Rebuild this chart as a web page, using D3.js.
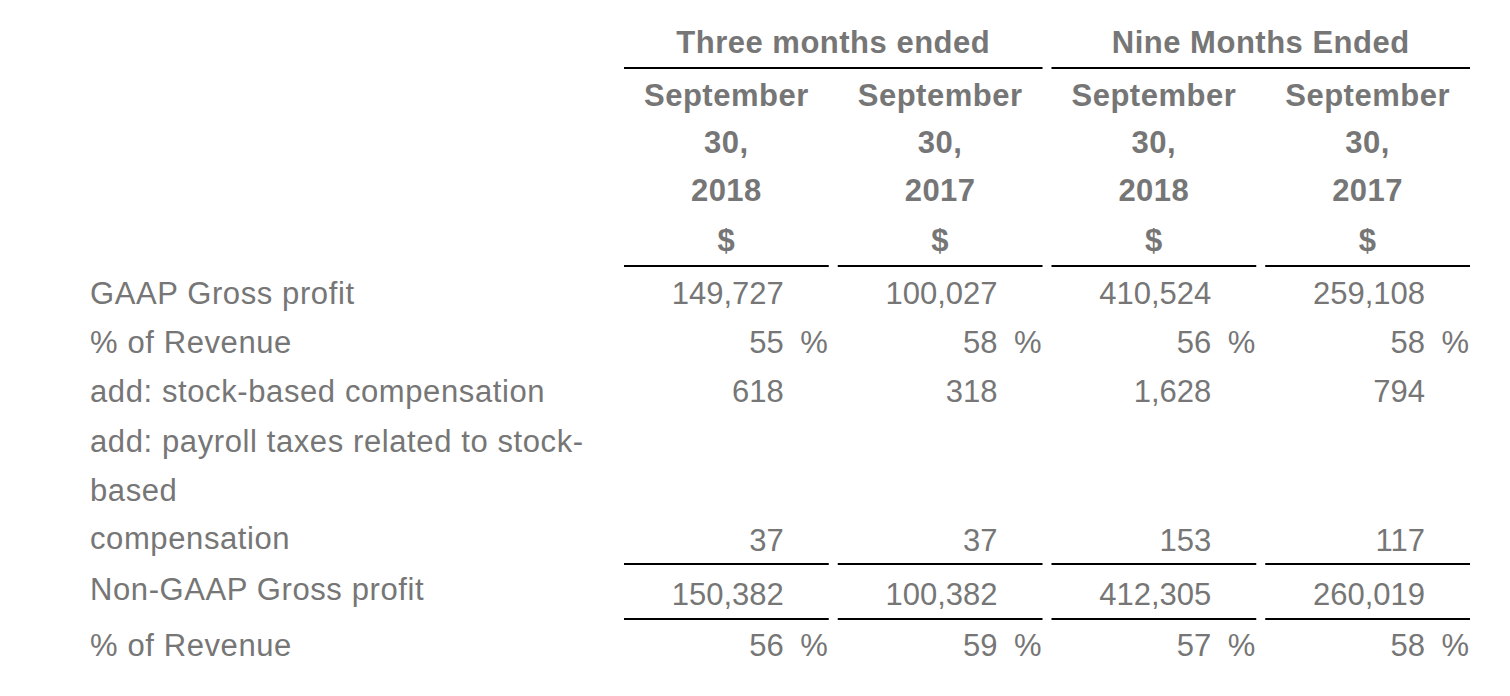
<!DOCTYPE html>
<html>
<head>
<meta charset="utf-8">
<script src="https://cdn.jsdelivr.net/npm/d3@7"></script>
<style>
  html, body { margin: 0; padding: 0; background: #fff; }
  svg { display: block; }
  text { font-family: "Liberation Sans", Arial, Helvetica, sans-serif; fill: #767676; font-size: 31px; }
  .bold { font-weight: bold; }
</style>
</head>
<body>
<svg id="chart" width="1510" height="696"></svg>
<script>
// ---- data ----
const groupHeaders = ["Three months ended", "Nine Months Ended"];
const columnMonth = ["September", "September", "September", "September"];
const columnDay = ["30,", "30,", "30,", "30,"];
const columnYear = ["2018", "2017", "2018", "2017"];
const columnUnit = ["$", "$", "$", "$"];

const rowLabels = [
  ["GAAP Gross profit"],
  ["% of Revenue"],
  ["add: stock-based compensation"],
  ["add: payroll taxes related to stock-", "based", "compensation"],
  ["Non-GAAP Gross profit"],
  ["% of Revenue"]
];
const gaapGrossProfit = [149727, 100027, 410524, 259108];
const gaapPctRevenue = [55, 58, 56, 58];
const stockComp = [618, 318, 1628, 794];
const payrollTaxes = [37, 37, 153, 117];
const nonGaapGrossProfit = [150382, 100382, 412305, 260019];
const nonGaapPctRevenue = [56, 59, 57, 58];

const rowValues = [gaapGrossProfit, gaapPctRevenue, stockComp, payrollTaxes, nonGaapGrossProfit, nonGaapPctRevenue];
const rowIsPct = [false, true, false, false, false, true];

// ---- layout ----
const svg = d3.select("#chart");
const fmt = d3.format(",");
const cols = d3.range(4);
const x = d3.scaleBand().domain(cols).range([624, 1470]).paddingInner(0.042);
const bw = x.bandwidth();
const labelX = 90;
const lineColor = "#000";

// header rows
const headerBaselines = [106, 153, 201, 251];
const groupBaseline = 53;

// group headers
groupHeaders.forEach((g, i) => {
  const x0 = x(i * 2), x1 = x(i * 2 + 1) + bw;
  svg.append("text").attr("class", "bold").attr("x", (x0 + x1) / 2).attr("y", groupBaseline)
    .attr("text-anchor", "middle").style("letter-spacing", "0.5px").text(g);
  svg.append("line").attr("x1", x0).attr("x2", x1).attr("y1", 68).attr("y2", 68)
    .attr("stroke", lineColor).attr("stroke-width", 2);
});

[columnMonth, columnDay, columnYear, columnUnit].forEach((arr, r) => {
  svg.selectAll(null).data(cols).enter().append("text")
    .attr("class", "bold")
    .attr("x", d => x(d) + bw / 2)
    .attr("y", headerBaselines[r])
    .attr("text-anchor", "middle")
    .style("letter-spacing", "0.5px")
    .text(d => arr[d]);
});

function hlines(y) {
  svg.selectAll(null).data(cols).enter().append("line")
    .attr("x1", d => x(d)).attr("x2", d => x(d) + bw)
    .attr("y1", y).attr("y2", y)
    .attr("stroke", lineColor).attr("stroke-width", 2);
}
hlines(266);
hlines(564);
hlines(619);

// body rows: label baselines (per line) and value baselines
const labelBaselines = [[304], [353], [402], [452, 501, 549], [600], [656]];
const valueBaselines = [304, 353, 402, 551, 605, 656];

rowLabels.forEach((lines, r) => {
  lines.forEach((t, k) => {
    svg.append("text").attr("x", labelX).attr("y", labelBaselines[r][k])
      .style("letter-spacing", "0.6px").text(t);
  });
  const vals = rowValues[r];
  svg.selectAll(null).data(cols).enter().append("text")
    .attr("x", d => x(d) + bw - 45)
    .attr("y", valueBaselines[r])
    .attr("text-anchor", "end")
    .text(d => fmt(vals[d]));
  if (rowIsPct[r]) {
    svg.selectAll(null).data(cols).enter().append("text")
      .attr("x", d => x(d) + bw - 1)
      .attr("y", valueBaselines[r])
      .attr("text-anchor", "end")
      .text("%");
  }
});
</script>
</body>
</html>
